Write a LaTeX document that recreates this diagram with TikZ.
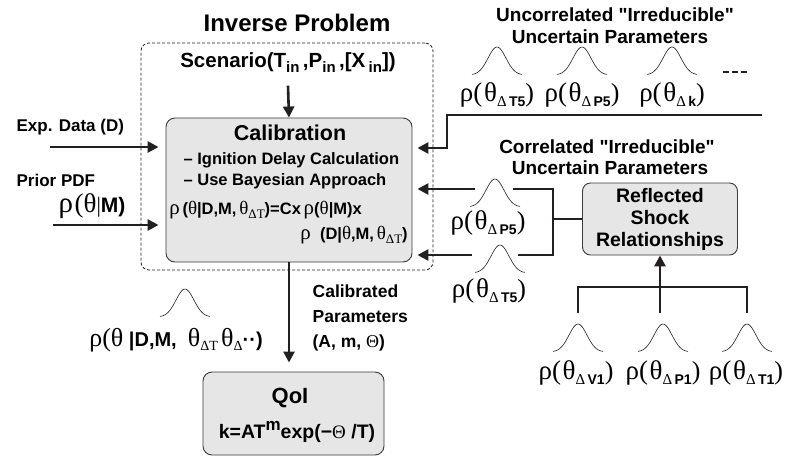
\documentclass[tikz,border=0pt]{standalone}
\usepackage{fontspec}
\setmainfont{Liberation Sans}
\newfontfamily\grk{Liberation Serif}
\usetikzlibrary{arrows.meta, positioning}
\definecolor{inkline}{HTML}{231F20}
\definecolor{boxfill}{HTML}{E6E6E6}
\definecolor{boxedge}{HTML}{3A3A3A}

\newcommand{\fs}[1]{\fontsize{#1}{#1}\selectfont}
\newcommand{\gk}[2]{{\grk\mdseries\fs{#1}#2}}
\newcommand{\lo}[1]{\raisebox{-4pt}{\fs{13}#1}}
\newcommand{\pdfof}[1]{\gk{27}{ρ(}\,\gk{27}{θ}\raisebox{-5pt}{\fs{14}\gk{15}{Δ}\,#1}\gk{26}{)}}

\tikzset{bell/.pic={\draw[line width=0.6pt, inkline] plot[domain=-25:25, samples=41, smooth] (\x,{-28*exp(-((\x)^2)/160)});}}

\begin{document}
\begin{tikzpicture}[x=1pt, y=-1pt, font=\bfseries, line width=2.6pt,
  arr/.style={-{Triangle[length=11pt,width=11pt]}, inkline},
  wire/.style={inkline},
  grey box/.style={draw=boxedge, line width=0.9pt, fill=boxfill, rounded corners=9pt}]
\useasboundingbox (0,0) rectangle (785,456);

% inverse problem frame
\node[font=\bfseries\fs{24}] (title) at (297,23) {Inverse Problem};
\node[draw=inkline, line width=0.8pt, dash pattern=on 3pt off 2pt, rounded corners=8pt,
      minimum width=292pt, minimum height=227pt] (inv) at (287,156.5) {};
\node[font=\bfseries\fs{20.5}] (scen) at (288,63)
      {Scenario(T\raisebox{-5pt}{\fs{15}in}\,,P\raisebox{-5pt}{\fs{15}in}\,,[X\,\raisebox{-5pt}{\fs{15}in}])};

% calibration box
\node[grey box, minimum width=246pt, minimum height=144pt] (calib) at (289,190) {};
\node[font=\bfseries\fs{21.5}] (caltitle) at (290,133) {Calibration};
\node[font=\bfseries\fs{16.5}, anchor=west] (ign) at (179,160) {– Ignition Delay Calculation};
\node[font=\bfseries\fs{16.5}, anchor=west] (bay) at (179,181) {– Use Bayesian Approach};
\node[font=\bfseries\fs{16.5}, anchor=west, inner sep=0pt] (eqa) at (168,210)
      {\gk{21}{ρ}\,(\gk{19}{θ}|D,M,\,\gk{19}{θ}\lo{\gk{13}{ΔT}})=Cx\,\gk{21}{ρ}(\gk{19}{θ}|M)x};
\node[font=\bfseries\fs{16.5}, anchor=east, inner sep=0pt] (eqb) at (409,235)
      {\gk{21}{ρ}\ \ (D|\gk{19}{θ},M,\,\gk{19}{θ}\lo{\gk{13}{ΔT}})};
\draw[arr] (scen.south) ++(0,8) -- (calib.north);

% inputs on the left
\node[font=\bfseries\fs{17}, anchor=west] (expd) at (12,127) {Exp. Data (D)};
\coordinate (expin) at (50,147);
\draw[arr, shorten >=7pt] (expin) -- (expin -| calib.west);
\node[font=\bfseries\fs{17}, anchor=west] (prior) at (12,180) {Prior PDF};
\node (priorpdf) at (92,206) {\gk{29}{ρ}\,\gk{27}{(θ}\gk{22}{|}{\fs{21}M)}};
\coordinate (priorin) at (53,225);
\draw[arr, shorten >=7pt] (priorin) -- (priorin -| calib.west);

% uncorrelated parameters
\node[font=\bfseries\fs{19}] (unc1) at (615,15) {Uncorrelated \textquotedbl Irreducible\textquotedbl};
\node[font=\bfseries\fs{19}] (unc2) at (610,37) {Uncertain Parameters};
\pic at (497,75) {bell};
\pic at (582,75) {bell};
\pic at (672,75) {bell};
\node (ut5) at (497,95) {\pdfof{T5}};
\node (up5) at (582,95) {\pdfof{P5}};
\node (uk) at (672,95) {\pdfof{k}};
\draw[inkline, line width=2.5pt, dash pattern=on 6pt off 3pt] (723,72) -- (747,72);
\coordinate (uend) at (762,115);
\coordinate (ubend) at (447,115);
\coordinate (ubend2) at (447,148);
\draw[arr, shorten >=5pt] (uend) -- (ubend) -- (ubend2) -- (ubend2 -| calib.east);

% correlated parameters
\node[font=\bfseries\fs{19}] (cor1) at (607,147) {Correlated \textquotedbl Irreducible\textquotedbl};
\node[font=\bfseries\fs{19}] (cor2) at (610,168) {Uncertain Parameters};
\node[grey box, rounded corners=8pt, minimum width=155pt, minimum height=72pt, align=center,
      font=\bfseries\fontsize{19.5}{22}\selectfont] (rsr) at (660,219) {Reflected\\Shock\\Relationships};
\coordinate (bkt) at (553,219);
\coordinate (bt) at (513,189);
\coordinate (bb) at (518,255);
\draw[wire] (rsr.west) -- (bkt);
\draw[wire] (bt) -| (bkt) |- (bb);
\pic at (495,207) {bell};
\node (cp5) at (488,223) {\pdfof{P5}};
\pic at (500,273) {bell};
\node (ct5) at (489,291) {\pdfof{T5}};
\coordinate (p5in) at (475,189);
\coordinate (t5in) at (472,255);
\draw[arr, shorten >=5pt] (p5in) -- (p5in -| calib.east);
\draw[arr, shorten >=5pt] (t5in) -- (t5in -| calib.east);

% shock inputs
\coordinate (tl) at (578,313);
\coordinate (tr) at (747,313);
\coordinate (tm) at (660,313);
\coordinate (tjoin) at (660,287);
\draw[wire] (tl) |- (tjoin) -| (tr);
\draw[arr] (tm) -- (rsr.south);
\pic at (578,352) {bell};
\pic at (663,352) {bell};
\pic at (747,352) {bell};
\node (pv1) at (576,373) {\pdfof{V1}};
\node (pp1) at (663,373) {\pdfof{P1}};
\node (pt1) at (746,373) {\pdfof{T1}};

% output
\node[grey box, minimum width=181pt, minimum height=83pt] (qoi) at (293.5,413.5) {};
\node[font=\bfseries\fs{22}] (qoititle) at (290,398) {QoI};
\node[font=\bfseries\fs{19.5}] (qoieq) at (297,432) {k=AT\raisebox{8pt}{\fs{17}m}exp(−\gk{19}{Θ} /T)};
\draw[arr, shorten >=9pt] (calib.south) -- (calib.south |- qoi.north);
\node[anchor=west, align=left, font=\bfseries\fontsize{17.5}{25}\selectfont] (calp) at (308,318)
      {Calibrated\\Parameters\\(A, m, \gk{18}{Θ})};
\pic at (185,317) {bell};
\node[font=\bfseries\fs{20}] (post) at (176,340)
      {\gk{26}{ρ(θ} |D,M,\ \ \gk{26}{θ}\lo{\gk{14}{ΔT}}\,\gk{26}{θ}\lo{\gk{14}{Δ}}··)};
\end{tikzpicture}
\end{document}
